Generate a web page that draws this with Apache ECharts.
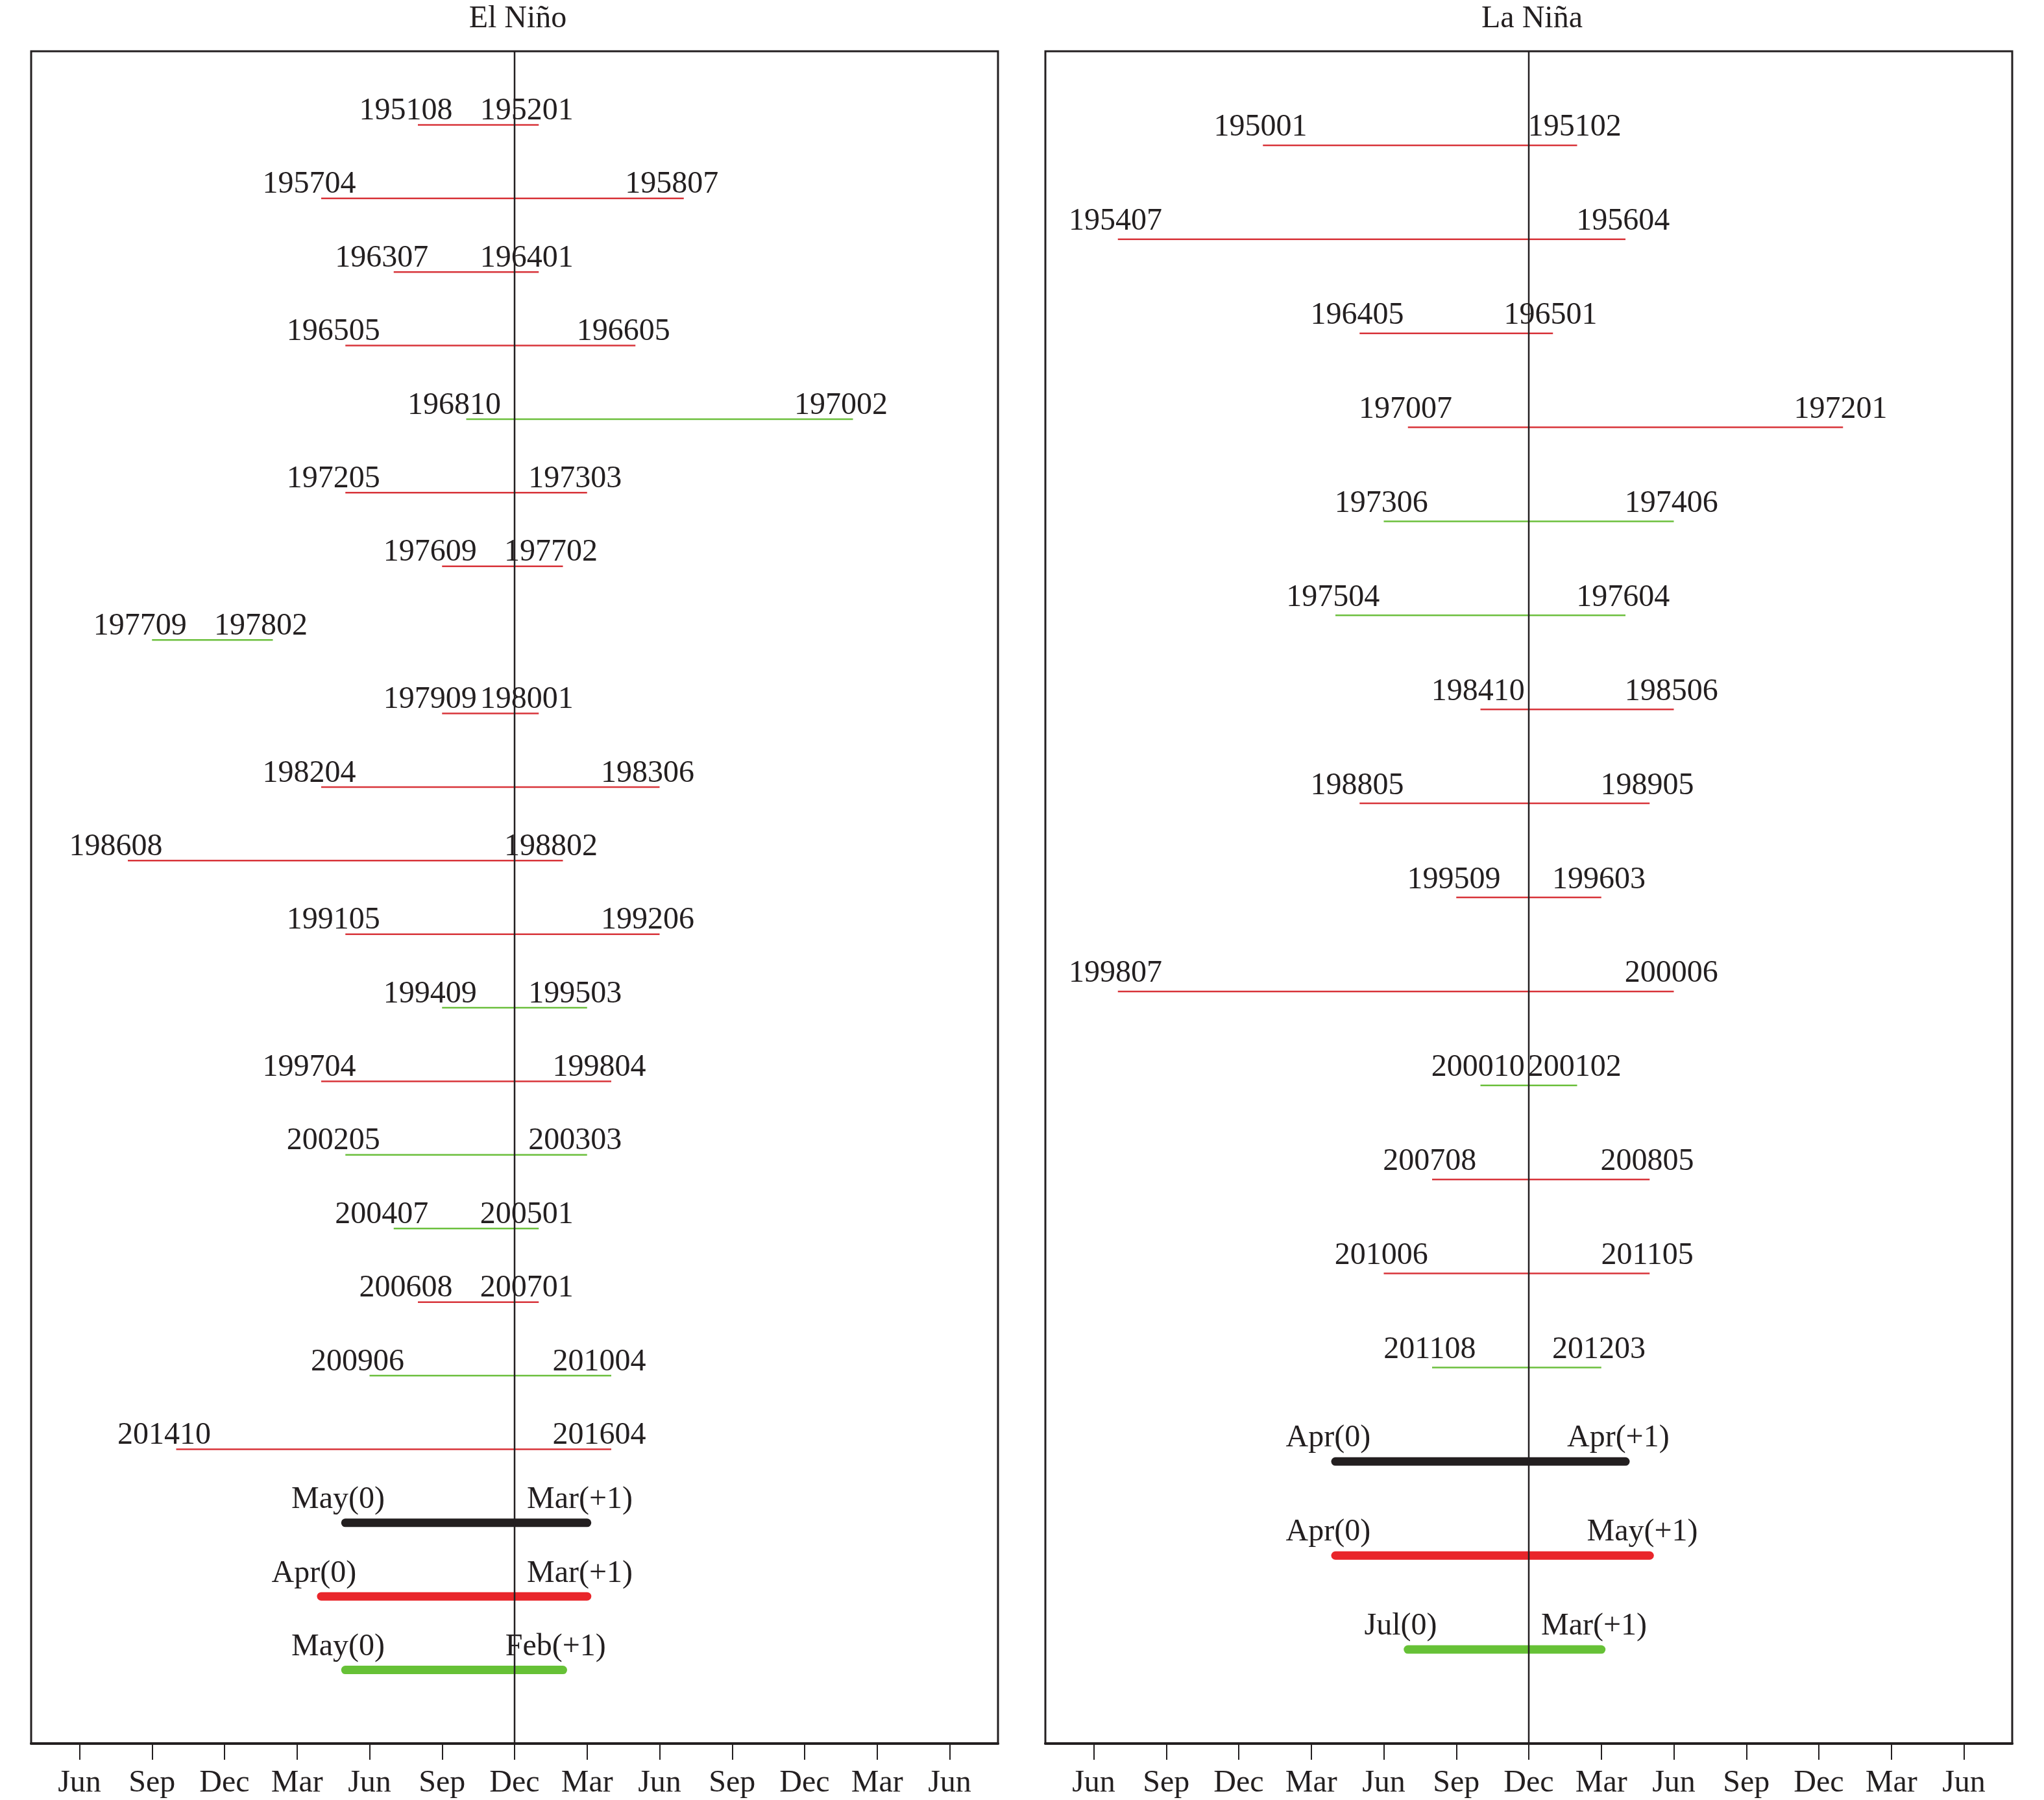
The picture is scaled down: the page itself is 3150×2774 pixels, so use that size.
<!DOCTYPE html>
<html>
<head>
<meta charset="utf-8">
<script src="https://cdn.jsdelivr.net/npm/echarts@6/dist/echarts.min.js"></script>
<style>
  body { margin: 0; background: #fff; }
  #main { width: 3150px; height: 2774px; }
</style>
</head>
<body>
<div id="main"></div>
<script>
// month offsets relative to Dec(0): negative = before, positive = after
var tickValues = [-18, -15, -12, -9, -6, -3, 0, 3, 6, 9, 12, 15, 18];
var tickLabels = ['Jun', 'Sep', 'Dec', 'Mar', 'Jun', 'Sep', 'Dec', 'Mar', 'Jun', 'Sep', 'Dec', 'Mar', 'Jun'];

// El Nino events
var ninoStartLabels = ['195108', '195704', '196307', '196505', '196810', '197205', '197609', '197709', '197909', '198204', '198608',
    '199105', '199409', '199704', '200205', '200407', '200608', '200906', '201410', 'May(0)', 'Apr(0)', 'May(0)'];
var ninoEndLabels = ['195201', '195807', '196401', '196605', '197002', '197303', '197702', '197802', '198001', '198306', '198802',
    '199206', '199503', '199804', '200303', '200501', '200701', '201004', '201604', 'Mar(+1)', 'Mar(+1)', 'Feb(+1)'];
var ninoStart = [-4, -8, -5, -7, -2, -7, -3, -15, -3, -8, -16, -7, -3, -8, -7, -5, -4, -6, -14, -7, -8, -7];
var ninoEnd = [1, 7, 1, 5, 14, 3, 2, -10, 1, 6, 2, 6, 3, 4, 3, 1, 1, 4, 4, 3, 3, 2];
// r = red, g = green, K/R/G = thick composite lines
var ninoType = ['r', 'r', 'r', 'r', 'g', 'r', 'r', 'g', 'r', 'r', 'r', 'r', 'g', 'r', 'g', 'g', 'r', 'g', 'r', 'K', 'R', 'G'];

// La Nina events
var ninaStartLabels = ['195001', '195407', '196405', '197007', '197306', '197504', '198410', '198805', '199509', '199807',
    '200010', '200708', '201006', '201108', 'Apr(0)', 'Apr(0)', 'Jul(0)'];
var ninaEndLabels = ['195102', '195604', '196501', '197201', '197406', '197604', '198506', '198905', '199603', '200006',
    '200102', '200805', '201105', '201203', 'Apr(+1)', 'May(+1)', 'Mar(+1)'];
var ninaStart = [-11, -17, -7, -5, -6, -8, -2, -7, -3, -17, -2, -4, -6, -4, -8, -8, -5];
var ninaEnd = [2, 4, 1, 13, 6, 4, 6, 5, 3, 6, 2, 5, 5, 3, 4, 5, 3];
var ninaType = ['r', 'r', 'r', 'r', 'g', 'g', 'r', 'r', 'r', 'r', 'g', 'r', 'r', 'g', 'K', 'R', 'G'];

var FONT = 'Liberation Serif';
var FSIZE = 48;
var TXT = '#231f20';
var colors = { r: '#d8343a', g: '#6bbf3c', K: '#231f20', R: '#e9262b', G: '#66c136' };

function makeRender(starts, ends, sLab, eLab, types, thinOff, thinGap, thickGap) {
    return function (params, api) {
        var i = params.dataIndex;
        var row = api.value(2);
        var t = types[i];
        var thick = (t === 'K' || t === 'R' || t === 'G');
        var off = thick ? -0.3 : thinOff;
        var gap = thick ? thickGap : thinGap;
        var p1 = api.coord([starts[i], row]);
        var p2 = api.coord([ends[i], row]);
        var l1 = api.coord([starts[i] + off, row]);
        var l2 = api.coord([ends[i] + off, row]);
        var ty = p1[1] - gap;
        var font = FSIZE + 'px "' + FONT + '"';
        return {
            type: 'group',
            children: [
                {
                    type: 'line',
                    shape: { x1: p1[0], y1: p1[1], x2: p2[0], y2: p2[1] },
                    style: { stroke: colors[t], lineWidth: thick ? 13 : 2.5, lineCap: thick ? 'round' : 'butt' }
                },
                {
                    type: 'text',
                    style: { x: l1[0], y: ty, text: sLab[i], fill: TXT, font: font, align: 'center', verticalAlign: 'bottom' }
                },
                {
                    type: 'text',
                    style: { x: l2[0], y: ty, text: eLab[i], fill: TXT, font: font, align: 'center', verticalAlign: 'bottom' }
                }
            ]
        };
    };
}

function xAxisFor(idx) {
    return {
        gridIndex: idx,
        type: 'value',
        min: -20,
        max: 20,
        splitLine: { show: false },
        axisLine: { show: true, onZero: false, lineStyle: { color: TXT, width: 4 } },
        axisTick: { show: true, customValues: tickValues, length: 25, lineStyle: { color: TXT, width: 2 } },
        axisLabel: {
            show: true,
            customValues: tickValues,
            margin: 37,
            fontFamily: FONT,
            fontSize: FSIZE,
            color: TXT,
            formatter: function (v) { return tickLabels[tickValues.indexOf(v)]; }
        }
    };
}

function yAxisFor(idx, n) {
    return { gridIndex: idx, type: 'value', min: 0, max: n + 1, inverse: true, show: false };
}

var chart = echarts.init(document.getElementById('main'));
chart.setOption({
    backgroundColor: '#fff',
    animation: false,
    title: [
        { text: 'El Ni\u00f1o', left: 793, top: 0, textAlign: 'center', textStyle: { fontFamily: FONT, fontSize: FSIZE, fontWeight: 'normal', color: TXT } },
        { text: 'La Ni\u00f1a', left: 2356, top: 0, textAlign: 'center', textStyle: { fontFamily: FONT, fontSize: FSIZE, fontWeight: 'normal', color: TXT } }
    ],
    grid: [
        { left: 48, top: 79, width: 1490, height: 2608, show: true, borderColor: TXT, borderWidth: 3, backgroundColor: 'transparent' },
        { left: 1611, top: 79, width: 1490, height: 2608, show: true, borderColor: TXT, borderWidth: 3, backgroundColor: 'transparent' }
    ],
    xAxis: [xAxisFor(0), xAxisFor(1)],
    yAxis: [yAxisFor(0, ninoStart.length), yAxisFor(1, ninaStart.length)],
    series: [
        {
            type: 'custom',
            xAxisIndex: 0, yAxisIndex: 0,
            renderItem: makeRender(ninoStart, ninoEnd, ninoStartLabels, ninoEndLabels, ninoType, -0.5, -3, 11),
            encode: { x: [0, 1], y: 2 },
            data: ninoStart.map(function (s, i) { return [s, ninoEnd[i], i + 1]; }),
            z: 2
        },
        {
            type: 'custom',
            xAxisIndex: 1, yAxisIndex: 1,
            renderItem: makeRender(ninaStart, ninaEnd, ninaStartLabels, ninaEndLabels, ninaType, -0.1, 3, 12),
            encode: { x: [0, 1], y: 2 },
            data: ninaStart.map(function (s, i) { return [s, ninaEnd[i], i + 1]; }),
            z: 2
        },
        {
            type: 'line', xAxisIndex: 0, yAxisIndex: 0, showSymbol: false, silent: true, z: 5,
            lineStyle: { color: TXT, width: 2.5 },
            data: [[0, 0], [0, ninoStart.length + 1]]
        },
        {
            type: 'line', xAxisIndex: 1, yAxisIndex: 1, showSymbol: false, silent: true, z: 5,
            lineStyle: { color: TXT, width: 2.5 },
            data: [[0, 0], [0, ninaStart.length + 1]]
        }
    ]
});
</script>
</body>
</html>
